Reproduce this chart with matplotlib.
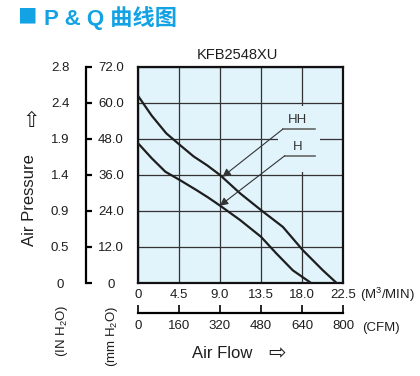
import matplotlib
matplotlib.use("Agg")
import matplotlib.pyplot as plt
from matplotlib.patches import Rectangle

plt.rcParams['font.family'] = ['Liberation Sans', 'DejaVu Sans']
plt.rcParams['mathtext.fontset'] = 'custom'
plt.rcParams['mathtext.rm'] = 'Liberation Sans'
plt.rcParams['mathtext.default'] = 'regular'

# flow in M3/MIN, pressure in mm H2O
hh_flow = [0, 1.5, 3.1, 4.6, 6.1, 7.6, 9.0, 11.2, 13.5, 15.9, 18.1, 20.3, 21.8]
hh_press = [62.4, 55.8, 49.9, 46.0, 42.2, 39.2, 36.0, 29.9, 24.3, 18.7, 10.9, 4.2, 0]
h_flow = [0, 1.5, 3.0, 4.6, 6.4, 7.7, 9.0, 11.2, 13.5, 15.2, 17.0, 19.0]
h_press = [46.6, 41.6, 37.1, 34.3, 31.0, 28.5, 25.8, 21.0, 15.4, 9.8, 4.2, 0]

m3_ticks = [0, 4.5, 9.0, 13.5, 18.0, 22.5]
m3_labels = ['0', '4.5', '9.0', '13.5', '18.0', '22.5']
cfm_ticks = [0, 160, 320, 480, 640, 800]
mm_ticks = [0, 12, 24, 36, 48, 60, 72]
mm_labels = ['0', '12.0', '24.0', '36.0', '48.0', '60.0', '72.0']
in_labels = ['0', '0.5', '0.9', '1.4', '1.9', '2.4', '2.8']

W, H = 420, 376
bg = '#e1f3fb'
ink = '#1e1e1e'
blue = '#13a2e4'


def fx(px):
    return px / W


def fy(py):
    return 1 - py / H


fig = plt.figure(figsize=(4.2, 3.76), dpi=100)
fig.patch.set_facecolor('white')

L, B, Wd, Ht = fx(138), fy(283), fx(205), 216 / H
ax = fig.add_axes([L, B, Wd, Ht])
ax.set_facecolor(bg)
ax.set_xlim(0, 22.5)
ax.set_ylim(0, 72)
ax.set_xticks(m3_ticks)
ax.set_xticklabels(m3_labels, fontsize=9.5, color=ink)
ax.set_yticks(mm_ticks)
ax.set_yticklabels([])
ax.tick_params(length=0, pad=4)
ax.set_axisbelow(True)
ax.grid(color='#333333', lw=0.9)
for s in ax.spines.values():
    s.set_linewidth(1.6)
    s.set_color('#111111')

# patch behind the labels that hides the grid
ax.add_patch(Rectangle((15.4, 37.0), 4.6, 22.0, facecolor=bg, edgecolor='none', zorder=1))

ax.plot(hh_flow, hh_press, color=ink, lw=1.6, zorder=3)
ax.plot(h_flow, h_press, color=ink, lw=1.6, zorder=3)

ax.text(17.55, 54.2, 'HH', ha='center', va='center', fontsize=9.5, color='#333333')
ax.plot([15.9, 19.4], [51.3, 51.3], color='#666666', lw=1.2, zorder=4)
ax.annotate('', xy=(9.27, 35.4), xytext=(15.9, 51.3),
            arrowprops=dict(arrowstyle='-|>', color='#333333', lw=0.8,
                            mutation_scale=12, shrinkA=0, shrinkB=0), zorder=5)
ax.text(17.55, 45.3, 'H', ha='center', va='center', fontsize=9.5, color='#333333')
ax.plot([16.1, 19.4], [42.4, 42.4], color='#666666', lw=1.2, zorder=4)
ax.annotate('', xy=(8.98, 25.75), xytext=(16.1, 42.4),
            arrowprops=dict(arrowstyle='-|>', color='#333333', lw=0.8,
                            mutation_scale=12, shrinkA=0, shrinkB=0), zorder=5)

# mm H2O bracket axis
axm = fig.add_axes([fx(80), B, fx(6), Ht])
axm.set_ylim(0, 72)
axm.patch.set_visible(False)
for k in ['left', 'top', 'bottom']:
    axm.spines[k].set_visible(False)
axm.spines['right'].set_linewidth(1.6)
axm.set_xticks([])
axm.yaxis.tick_right()
axm.set_yticks(mm_ticks)
axm.set_yticklabels(mm_labels, fontsize=9.5, color=ink, ha='center')
axm.tick_params(axis='y', direction='out', length=4, width=1.6, pad=14)

# IN H2O labels
axi = fig.add_axes([fx(50), B, fx(10), Ht])
axi.set_ylim(0, 72)
axi.patch.set_visible(False)
for s in axi.spines.values():
    s.set_visible(False)
axi.set_xticks([])
axi.yaxis.tick_right()
axi.set_yticks(mm_ticks)
axi.set_yticklabels(in_labels, fontsize=9.5, color=ink, ha='center')
axi.tick_params(axis='y', length=0, pad=0)

# CFM bracket axis
axc = fig.add_axes([L, fy(313), Wd, 0.01])
axc.set_xlim(0, 800)
axc.patch.set_visible(False)
for k in ['left', 'top', 'right']:
    axc.spines[k].set_visible(False)
axc.spines['bottom'].set_linewidth(1.6)
axc.set_yticks([])
axc.set_xticks(cfm_ticks)
axc.set_xticklabels([str(v) for v in cfm_ticks], fontsize=9.5, color=ink)
axc.tick_params(axis='x', direction='in', length=6, width=1.2, pad=5)

fig.text(fx(360), fy(295), '(M$^3$/MIN)', ha='left', va='center', fontsize=9.5, color=ink)
fig.text(fx(362), fy(328), '(CFM)', ha='left', va='center', fontsize=9.5, color=ink)
fig.text(fx(222), fy(353), 'Air Flow', ha='center', va='center', fontsize=12, color=ink)
fig.text(fx(277), fy(353), '⇨', ha='center', va='center', fontsize=15, color=ink,
         family='DejaVu Sans')
fig.text(fx(30), fy(200), 'Air Pressure', ha='center', va='center', fontsize=12,
         color=ink, rotation=90)
fig.text(fx(31), fy(121), '⇧', ha='center', va='center', fontsize=15, color=ink,
         family='DejaVu Sans')
fig.text(fx(62), fy(331), '(IN H$_2$O)', ha='center', va='center', fontsize=9.5,
         color=ink, rotation=90)
fig.text(fx(112), fy(336), '(mm H$_2$O)', ha='center', va='center', fontsize=9.5,
         color=ink, rotation=90)
fig.text(fx(237), fy(55), 'KFB2548XU', ha='center', va='center', fontsize=10.5, color=ink)
fig.text(fx(17), fy(17), '■', ha='left', va='center', fontsize=14,
         color=blue, family=['Noto Sans CJK SC'])
fig.text(fx(44), fy(18), 'P & Q 曲线图', ha='left', va='center', fontsize=16,
         fontweight='bold', color=blue, family=['Liberation Sans', 'Noto Sans CJK SC'])

fig.savefig('out.png', dpi=100)
plt.close(fig)
